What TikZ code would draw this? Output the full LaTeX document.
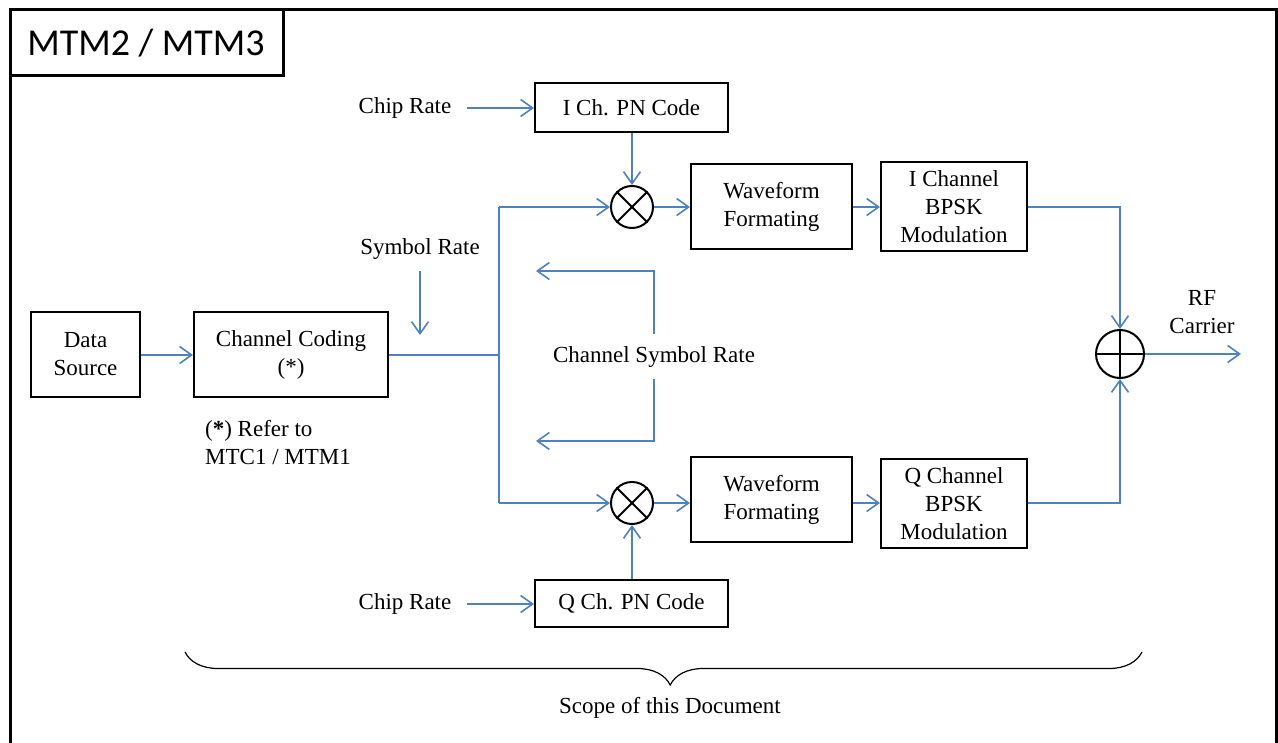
\documentclass[tikz,border=0pt]{standalone}
\usepackage{fontspec}
\setmainfont{Liberation Serif}
\newfontfamily\titlefont{Carlito}
\usetikzlibrary{arrows.meta,decorations.pathreplacing}
\definecolor{wireblue}{HTML}{4F81BD}
\tikzset{
  box/.style={draw=black, line width=2pt, rectangle, align=center, inner sep=0pt,
    font=\fontsize{23}{28}\selectfont},
  lbl/.style={align=center, inner sep=2pt, font=\fontsize{23}{28}\selectfont},
  wire/.style={draw=wireblue, line width=1.6pt},
  arr/.style={wire, -{Straight Barb[length=12pt,width=17pt]}},
  mixer/.style={draw=black, line width=2pt, circle, minimum size=42pt, inner sep=0pt},
  summer/.style={draw=black, line width=2pt, circle, minimum size=48pt, inner sep=0pt},
}
\begin{document}
\begin{tikzpicture}[x=1pt,y=-1pt]
\path[use as bounding box, clip] (0,0) rectangle (1278,743);
\fill[white] (0,0) rectangle (1278,743);
% outer frame and title
\draw[line width=3pt] (10,10) rectangle (1276,760);
\draw[line width=3pt] (10,10) rectangle (283,76);
\node[font=\titlefont\fontsize{38}{40}\selectfont, inner sep=0pt] (title) at (146,43) {MTM2 / MTM3};

% blocks
\node[box, minimum width=109pt, minimum height=85pt] (ds) at (85.5,354.5) {Data\\Source};
\node[box, minimum width=194pt, minimum height=85pt] (cc) at (291,354.5) {Channel Coding\\(*)};
\node[box, minimum width=193pt, minimum height=49pt] (ic) at (631.5,107.5) {I Ch. PN Code};
\node[box, minimum width=193pt, minimum height=47pt] (qc) at (631.5,603.5) {Q Ch. PN Code};
\node[box, minimum width=161pt, minimum height=85pt] (wf1) at (771.5,206.5) {Waveform\\Formating};
\node[box, minimum width=161pt, minimum height=85pt] (wf2) at (771.5,499.5) {Waveform\\Formating};
\node[box, minimum width=146pt, minimum height=89pt] (bp1) at (954,206.5) {I Channel\\BPSK\\Modulation};
\node[box, minimum width=146pt, minimum height=89pt] (bp2) at (954,503.5) {Q Channel\\BPSK\\Modulation};
\node[mixer] (m1) at (632,207) {};
\node[mixer] (m2) at (632,503) {};
\node[summer] (sum) at (1120,354) {};
\draw[line width=2pt] (m1.north east) -- (m1.south west) (m1.north west) -- (m1.south east);
\draw[line width=2pt] (m2.north east) -- (m2.south west) (m2.north west) -- (m2.south east);
\draw[line width=2pt] (sum.north) -- (sum.south) (sum.west) -- (sum.east);

% labels
\node[lbl] (cr1) at (405,108) {Chip Rate};
\node[lbl] (cr2) at (405,604) {Chip Rate};
\node[lbl] (sr) at (420,249) {Symbol Rate};
\node[lbl] (csr) at (654,357) {Channel Symbol Rate};
\node[lbl] (rf) at (1202,312) {RF\\Carrier};
\node[lbl, align=left, anchor=west] (note) at (203,443) {(\textbf{*}) Refer to\\MTC1 / MTM1};

% coordinates
\coordinate (split) at (499,355);
\coordinate (st) at (499,207);
\coordinate (sb) at (499,503);
\coordinate (srs) at (420,271);
\coordinate (sre) at (420,335);
\coordinate (cr1s) at (467,108);
\coordinate (cr2s) at (467,604);
\coordinate (ctop) at (654,334);
\coordinate (ctopc) at (654,271);
\coordinate (ctope) at (536,271);
\coordinate (cbot) at (654,379);
\coordinate (cbotc) at (654,441);
\coordinate (cbote) at (536,441);
\coordinate (rfe) at (1241,354);

% connectors
\draw[arr] (ds.east |- split) -- (cc.west |- split);
\draw[wire] (cc.east |- split) -- (split);
\draw[wire] (st) -- (sb);
\draw[arr] (st) -- (m1);
\draw[arr] (sb) -- (m2);
\draw[arr] (srs) -- (sre);
\draw[arr] (cr1s) -- (ic.west |- cr1s);
\draw[arr] (cr2s) -- (qc.west |- cr2s);
\draw[arr] (ic.south -| m1) -- (m1.north);
\draw[arr] (qc.north -| m2) -- (m2.south);
\draw[arr] (m1) -- (wf1.west |- m1);
\draw[arr] (m2) -- (wf2.west |- m2);
\draw[arr] (wf1.east |- m1) -- (bp1.west |- m1);
\draw[arr] (wf2.east |- m2) -- (bp2.west |- m2);
\draw[arr] (bp1.east |- m1) -| (sum.north);
\draw[arr] (bp2.east |- m2) -| (sum.south);
\draw[arr] (sum) -- (rfe);
\draw[arr] (ctop) -- (ctopc) -- (ctope);
\draw[arr] (cbot) -- (cbotc) -- (cbote);

% scope brace
\coordinate (bl) at (185,652);
\coordinate (br) at (1142,652);
\draw[line width=1.2pt, decorate, decoration={brace, mirror, amplitude=33pt, aspect=0.507}] (bl) -- (br);
\node[lbl] (scope) at (670,708) {Scope of this Document};
\end{tikzpicture}
\end{document}
